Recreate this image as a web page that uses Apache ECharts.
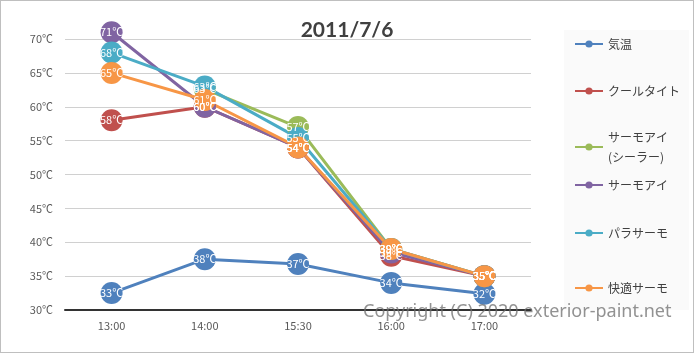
<!DOCTYPE html>
<html>
<head>
<meta charset="utf-8">
<script src="https://cdn.jsdelivr.net/npm/echarts@6/dist/echarts.min.js"></script>
<style>
  html, body { margin: 0; padding: 0; background: #fff; }
  #chart { width: 694px; height: 353px; box-sizing: border-box; border: 1px solid #bfbfbf; }
</style>
</head>
<body>
<div id="chart"></div>
<script>
var chartDom = document.getElementById('chart');
var myChart = echarts.init(chartDom);

// data
var times = ['13:00', '14:00', '15:30', '16:00', '17:00'];
var kion = [32.5, 37.5, 36.8, 34.0, 32.4];
var coolTight = [58, 60, 54, 38, 35];
var thermoSealer = [null, 62.6, 57, 39, 35];
var thermoEye = [71, 60, 54, 38.5, 35];
var paraThermo = [68, 63, 55.4, 39, 35];
var kaiteki = [65, 61, 54, 39, 35];
var yTicks = [30, 70, 5];

const colors = ['#4F81BD', '#C0504D', '#9BBB59', '#8064A2', '#4BACC6', '#F79646'];
const names = ['気温', 'クールタイト', 'サーモアイ\n(シーラー)', 'サーモアイ', 'パラサーモ', '快適サーモ'];
const values = [kion, coolTight, thermoSealer, thermoEye, paraThermo, kaiteki];
const legendTops = [28, 75, 111, 169, 217, 272];
const jp = '"Noto Sans CJK JP", "Noto Sans", sans-serif';

var option;

option = {
  color: colors,
  animation: false,
  title: {
    text: '2011/7/6',
    left: 'center',
    top: 14,
    textStyle: { fontFamily: 'Lato', fontWeight: 'bold', fontSize: 21, color: '#404040' }
  },
  legend: names.map(function (n, i) {
    return {
      data: [n],
      left: 568,
      top: legendTops[i],
      itemWidth: 28,
      itemHeight: 9,
      textStyle: {
        fontFamily: jp,
        fontSize: 12,
        color: '#404040',
        lineHeight: 20,
        padding: i === 2 ? [20, 0, 0, 0] : 0
      }
    };
  }),
  grid: {
    left: 64,
    right: 162,
    top: 38,
    bottom: 42
  },
  xAxis: {
    type: 'category',
    data: times,
    axisTick: { show: false },
    axisLine: { lineStyle: { color: '#333', width: 2 } },
    axisLabel: { fontFamily: jp, fontSize: 11, color: '#595959', margin: 10 }
  },
  yAxis: {
    type: 'value',
    min: yTicks[0],
    max: yTicks[1],
    interval: yTicks[2],
    axisLine: { show: false },
    axisTick: { show: false },
    axisLabel: {
      fontFamily: jp, fontSize: 11, color: '#595959', margin: 12,
      formatter: function (v) { return v + '℃'; }
    },
    splitLine: { lineStyle: { color: '#d0d0d0' } }
  },
  graphic: [
    {
      type: 'rect',
      z: -1,
      shape: { x: 563, y: 29, width: 125, height: 280 },
      style: { fill: '#fafafa' }
    },
    {
      type: 'text',
      z: 100,
      left: 362,
      top: 302,
      style: {
        text: 'Copyright (C) 2020 exterior-paint.net',
        font: '18px "Noto Sans", sans-serif',
        fill: 'rgba(110,110,110,0.75)'
      }
    }
  ],
  series: names.map(function (n, i) {
    return {
      name: n,
      type: 'line',
      data: values[i],
      clip: false,
      symbol: 'circle',
      symbolSize: 22,
      lineStyle: { width: 3 },
      label: {
        show: true,
        position: 'inside',
        color: '#fff',
        fontFamily: jp,
        fontSize: 11,
        formatter: function (p) { return Math.round(p.value) + '℃'; }
      }
    };
  })
};

option && myChart.setOption(option);
</script>
</body>
</html>
